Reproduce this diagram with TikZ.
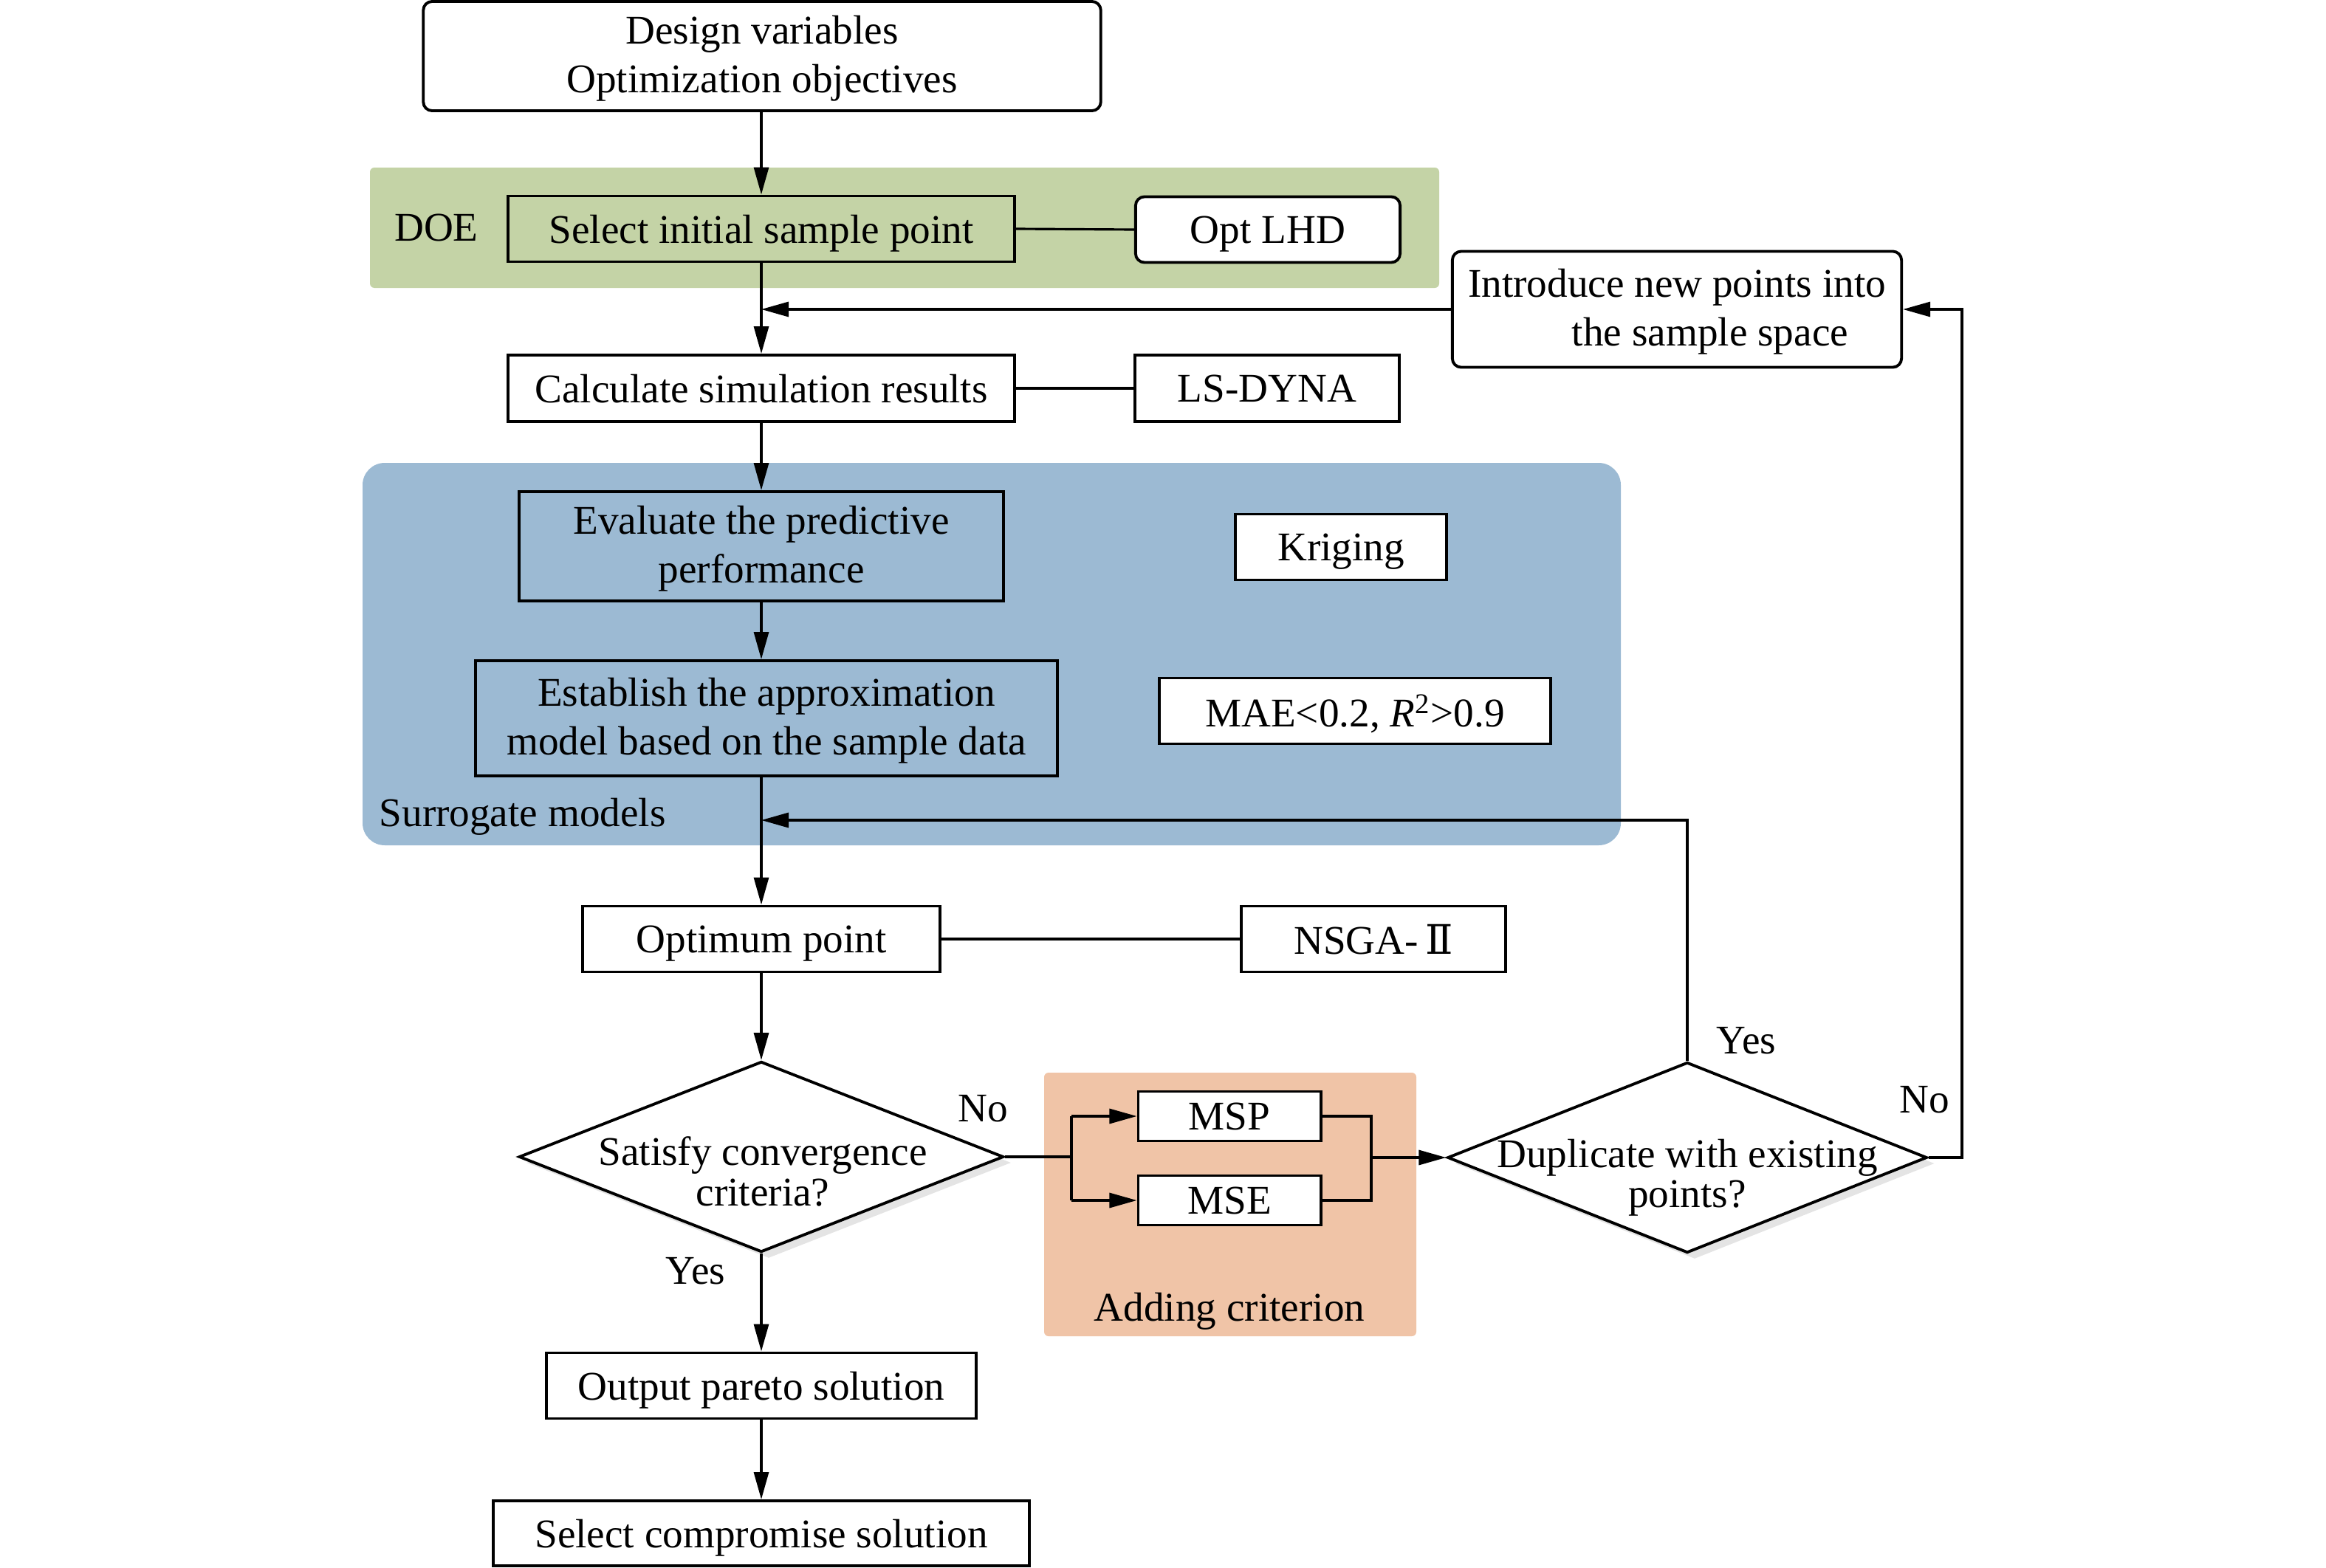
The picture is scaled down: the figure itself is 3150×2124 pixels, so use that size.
\documentclass[tikz,border=0pt]{standalone}
\usepackage{fontspec}
\setmainfont{Liberation Serif}
\newfontfamily\djv{DejaVu Serif}
\usetikzlibrary{arrows.meta,shapes.geometric}
\newcommand{\mf}{\fontsize{15.7pt}{18.8pt}\selectfont}
\newcommand{\mfd}{\fontsize{15.7pt}{15.4pt}\selectfont}
\definecolor{doeg}{RGB}{196,211,166}
\definecolor{surb}{RGB}{156,186,211}
\definecolor{addo}{RGB}{240,196,167}
\definecolor{shad}{RGB}{228,228,228}
\tikzset{
  bx/.style={draw, line width=1.1pt, inner sep=0pt, align=center, font=\mf, fill=white, text depth=0pt},
  mbx/.style={bx, text depth=1.7pt},
  rbx/.style={bx, rounded corners=0.12cm},
  arr/.style={line width=0.9pt, -{Triangle[length=0.37cm,width=0.2cm]}},
  ln/.style={line width=0.9pt},
  lbl/.style={font=\mf, inner sep=0pt, text depth=0pt},
  txt/.style={font=\mfd, inner sep=0pt, align=center},
  dia/.style={diamond, draw, line width=1.1pt, inner sep=0pt, fill=white},
  shd/.style={diamond, fill=shad, inner sep=0pt}
}
\begin{document}
\begin{tikzpicture}[x=0.01cm,y=-0.01cm]
\useasboundingbox (0,0) rectangle (3150,2124);
% background regions
\fill[doeg, rounded corners=0.06cm] (501,227) rectangle (1949,390);
\fill[surb, rounded corners=0.3cm] (491,627) rectangle (2195,1145);
\fill[addo, rounded corners=0.06cm] (1414,1453) rectangle (1918,1810);
% region labels
\node[lbl] (doelbl) at (591,308) {DOE};
\node[lbl, anchor=west] (surlbl) at (513,1100) {Surrogate models};
\node[lbl] (addlbl) at (1665,1770) {Adding criterion};
% nodes
\node[rbx, text depth=1.7pt, minimum width=9.17cm, minimum height=1.48cm] (top) at (1032,76) {Design variables\\Optimization objectives};
\node[bx, fill=doeg, minimum width=6.85cm, minimum height=0.89cm] (sel) at (1031,310) {Select initial sample point};
\node[rbx, minimum width=3.58cm, minimum height=0.89cm] (opt) at (1717,311) {Opt LHD};
\node[rbx, text depth=1.7pt, minimum width=6.08cm, minimum height=1.57cm] (intro) at (2271,419) {Introduce new points into\\\hspace*{1.63em}the sample space};
\node[bx, minimum width=6.85cm, minimum height=0.9cm] (calc) at (1031,526) {Calculate simulation results};
\node[bx, minimum width=3.57cm, minimum height=0.9cm] (lsd) at (1716,526) {LS-DYNA};
\node[mbx, fill=surb, minimum width=6.55cm, minimum height=1.48cm] (eval) at (1031,740) {Evaluate the predictive\\performance};
\node[bx, minimum width=2.85cm, minimum height=0.89cm] (krig) at (1816,741) {Kriging};
\node[mbx, fill=surb, minimum width=7.87cm, minimum height=1.56cm] (est) at (1038,973) {Establish the approximation\\model based on the sample data};
\node[bx, minimum width=5.29cm, minimum height=0.89cm] (mae) at (1835,963) {MAE<0.2, \textit{R}\textsuperscript{2}>0.9};
\node[bx, minimum width=4.83cm, minimum height=0.89cm] (optp) at (1031,1272) {Optimum point};
\node[bx, minimum width=3.57cm, minimum height=0.89cm] (nsga) at (1860,1272) {NSGA-\,{\djv Ⅱ}};
% diamonds with shadows
\node[shd, minimum width=6.56cm, minimum height=2.58cm] (convs) at (1041,1575) {};
\node[dia, minimum width=6.56cm, minimum height=2.58cm] (conv) at (1031,1567) {};
\node[txt] (convt) at (1033,1587) {Satisfy convergence\\criteria?};
\node[shd, minimum width=6.49cm, minimum height=2.58cm] (dups) at (2295,1576) {};
\node[dia, minimum width=6.49cm, minimum height=2.58cm] (dup) at (2285,1568) {};
\node[txt] (dupt) at (2285,1595) {Duplicate with existing\\points?};
\node[bx, minimum width=2.47cm, minimum height=0.67cm] (msp) at (1665,1512) {MSP};
\node[bx, minimum width=2.47cm, minimum height=0.67cm] (mse) at (1665,1626) {MSE};
\node[bx, minimum width=5.81cm, minimum height=0.89cm] (out) at (1031,1877) {Output pareto solution};
\node[bx, minimum width=7.25cm, minimum height=0.88cm] (cmp) at (1031,2077) {Select compromise solution};
% answer labels
\node[lbl] (no1) at (1331,1501) {No};
\node[lbl] (yes1) at (942,1721) {Yes};
\node[lbl] (yes2) at (2365,1409) {Yes};
\node[lbl] (no2) at (2606,1489) {No};
% coordinates
\coordinate (bl) at (1451,1567);
\coordinate (br) at (1857,1568);
\coordinate (loopr) at (2657,1568);
\coordinate (yesin) at (1031,1111);
% connectors
\draw[arr] (top.south -| sel.north) -- (sel.north);
\draw[arr] (sel.south) -- (calc.north);
\draw[ln] (sel.east) -- (opt.west);
\draw[arr] (intro.west) -- (intro.west -| sel.south);
\draw[ln] (calc.east) -- (lsd.west);
\draw[arr] (calc.south) -- (eval.north);
\draw[arr] (eval.south) -- (eval.south |- est.north);
\draw[arr] (eval.south |- est.south) -- (optp.north);
\draw[ln] (optp.east) -- (nsga.west);
\draw[arr] (optp.south) -- (conv.north);
\draw[arr] (conv.south) -- (out.north);
\draw[arr] (out.south) -- (cmp.north);
\draw[ln] (conv.east) -- (bl);
\draw[ln] (bl |- msp.west) -- (bl |- mse.west);
\draw[arr] (bl |- msp.west) -- (msp.west);
\draw[arr] (bl |- mse.west) -- (mse.west);
\draw[ln] (msp.east) -- (br |- msp.east) -- (br |- mse.east) -- (mse.east);
\draw[arr] (br) -- (dup.west);
\draw[arr] (dup.north) -- (dup.north |- yesin) -- (yesin);
\draw[arr] (dup.east) -- (loopr) -- (loopr |- intro.east) -- (intro.east);
\end{tikzpicture}
\end{document}
